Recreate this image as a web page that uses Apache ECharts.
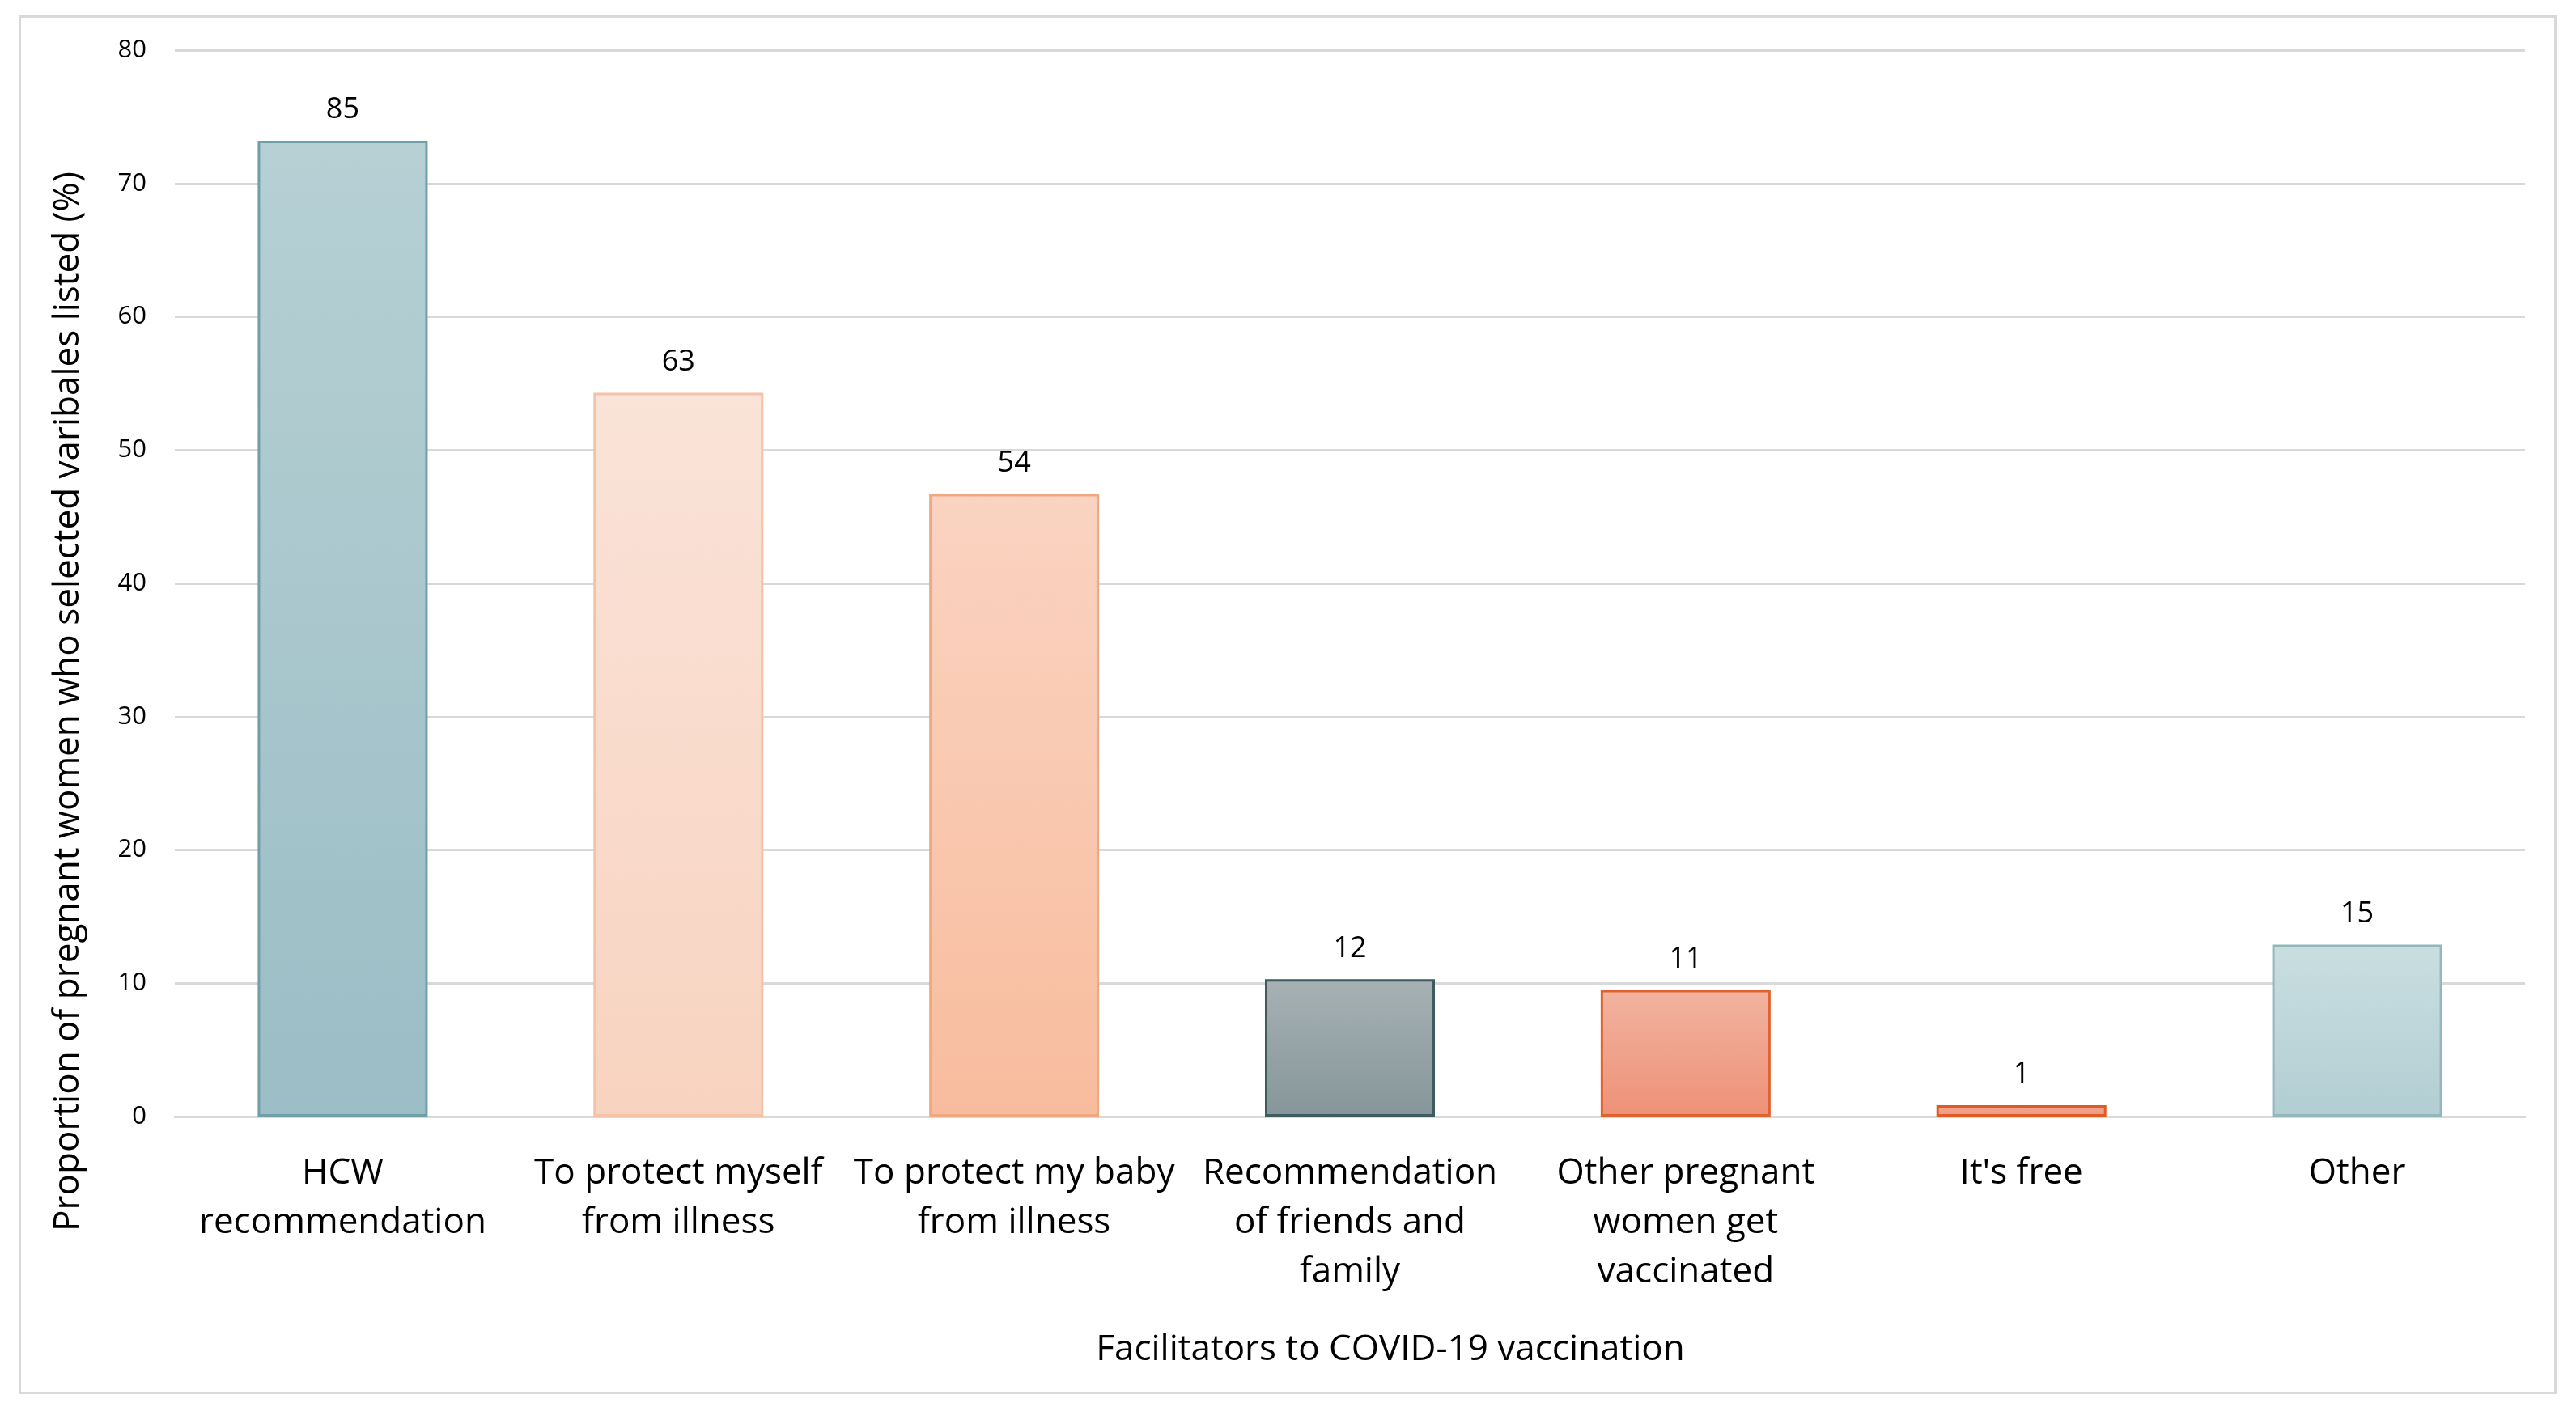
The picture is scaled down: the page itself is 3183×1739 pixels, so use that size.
<!DOCTYPE html>
<html>
<head>
<meta charset="utf-8">
<script src="https://cdn.jsdelivr.net/npm/echarts@6/dist/echarts.min.js"></script>
<style>
  html, body { margin: 0; padding: 0; background: #ffffff; }
  #frame { position: absolute; left: 23px; top: 19px; width: 3130px; height: 1698px; border: 3px solid #d9d9d9; }
  #chart { position: absolute; left: 0; top: 0; width: 3183px; height: 1739px; }
</style>
</head>
<body>
<div id="frame"></div>
<div id="chart"></div>
<script>
// ---- data ----
const categories = [
  'HCW\nrecommendation',
  'To protect myself\nfrom illness',
  'To protect my baby\nfrom illness',
  'Recommendation\nof friends and\nfamily',
  'Other pregnant\nwomen get\nvaccinated',
  "It's free",
  'Other'
];
const barValues = [73.2, 54.3, 46.7, 10.3, 9.5, 0.85, 12.9];
const barLabels = [85, 63, 54, 12, 11, 1, 15];
const yTicks = [0, 10, 20, 30, 40, 50, 60, 70, 80];

// ---- styles ----
const topColors    = ['#b6d0d4', '#fae3d8', '#fad3c1', '#a7b1b3', '#f1b39f', '#f3a893', '#c9dee1'];
const bottomColors = ['#9bbdc5', '#f8d3c0', '#f8bc9d', '#85969a', '#ee9177', '#ef977e', '#b2ced3'];
const borderColors = ['#6f9fa8', '#f4c2a6', '#f0a883', '#3f5b62', '#e0632f', '#e05a25', '#92b8be'];

const chart = echarts.init(document.getElementById('chart'));
const FONT = 'Open Sans';

const seriesData = barValues.map((v, i) => ({
  value: v,
  itemStyle: {
    color: new echarts.graphic.LinearGradient(0, 0, 0, 1, [
      { offset: 0, color: topColors[i] },
      { offset: 1, color: bottomColors[i] }
    ]),
    borderColor: borderColors[i],
    borderWidth: 3
  }
}));

chart.setOption({
  animation: false,
  grid: { left: 216, right: 63, top: 62, bottom: 359, containLabel: false },
  xAxis: {
    type: 'category',
    data: categories,
    name: 'Facilitators to COVID-19 vaccination',
    nameLocation: 'middle',
    nameGap: 266,
    nameTextStyle: { fontFamily: FONT, fontSize: 44, color: '#000', padding: [0, 0, 0, 100], lineHeight: 44 },
    axisLine: { show: true, lineStyle: { color: '#d9d9d9', width: 3 } },
    axisTick: { show: false },
    axisLabel: { interval: 0, margin: 40, fontFamily: FONT, fontSize: 44, lineHeight: 61, color: '#000' }
  },
  yAxis: {
    type: 'value',
    min: yTicks[0],
    max: yTicks[yTicks.length - 1],
    interval: yTicks[1] - yTicks[0],
    name: 'Proportion of pregnant women who selected varibales listed (%)',
    nameLocation: 'middle',
    nameGap: 110,
    nameTextStyle: { fontFamily: FONT, fontSize: 44, color: '#000', padding: [0, 292, 0, 0] },
    axisLine: { show: false },
    axisTick: { show: false },
    axisLabel: { margin: 35, fontFamily: FONT, fontSize: 31, color: '#000' },
    splitLine: { show: true, lineStyle: { color: '#d9d9d9', width: 3 } }
  },
  series: [{
    type: 'bar',
    data: seriesData,
    barWidth: 210,
    label: {
      show: true,
      position: 'top',
      distance: 20,
      fontFamily: FONT,
      fontSize: 36,
      color: '#000',
      formatter: p => String(barLabels[p.dataIndex])
    }
  }]
});
</script>
</body>
</html>
